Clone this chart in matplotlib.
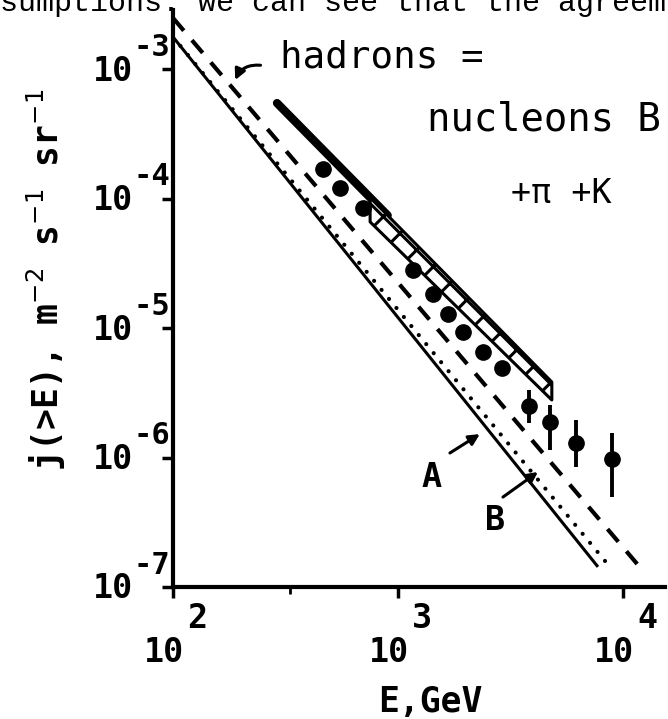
import numpy as np
import matplotlib
matplotlib.use("Agg")
import matplotlib.pyplot as plt
from matplotlib.transforms import blended_transform_factory, offset_copy
from matplotlib.ticker import NullLocator

# ---------------- data ----------------
# curve A (solid), curve B (dotted), hadron sum (dashed): power laws, end points
E_A = [100, 7745]
J_A = [1.77e-3, 1.43e-7]
E_B = [100, 8750]
J_B = [1.77e-3, 1.43e-7]
E_had = [100, 11670]
J_had = [2.48e-3, 1.48e-7]

# thick line and hatched band (measured spectrum)
E_thick = [290, 900]
J_thick = [5.46e-4, 7.41e-5]
E_band = [752, 4830]
J_band_hi = [1.016e-4, 3.83e-6]
J_band_lo = [6.6e-5, 2.78e-6]

# data points without error bars
E_pts = [464, 552, 699, 1166, 1431, 1668, 1944, 2387, 2898]
J_pts = [1.69e-4, 1.205e-4, 8.45e-5, 2.81e-5, 1.83e-5, 1.28e-5, 9.31e-6, 6.53e-6, 4.91e-6]

# data points with error bars
E_err = [3820, 4740, 6180, 8930]
J_err = [2.50e-6, 1.88e-6, 1.29e-6, 9.72e-7]
J_err_lo = [1.86e-6, 1.14e-6, 8.45e-7, 4.95e-7]
J_err_hi = [3.35e-6, 2.54e-6, 1.95e-6, 1.545e-6]

x_ticks = [1e2, 1e3, 1e4]
x_minor = [330]
y_ticks = [1e-7, 1e-6, 1e-5, 1e-4, 1e-3]

# ---------------- figure ----------------
W, H = 668, 719
plt.rcParams['hatch.linewidth'] = 2.2
fig = plt.figure(figsize=(W / 100, H / 100), dpi=100)
ax = fig.add_axes([173 / W, (H - 587) / H, (665 - 173) / W, 577 / H])
ax.set_xscale('log')
ax.set_yscale('log')
ax.set_xlim(100, 10 ** 4.187)
ax.set_ylim(1e-7, 10 ** -2.544)

for s in ('top', 'right'):
    ax.spines[s].set_visible(False)
for s in ('left', 'bottom'):
    ax.spines[s].set_linewidth(3)

ax.set_xticks(x_ticks)
ax.set_xticks(x_minor, minor=True)
ax.set_yticks(y_ticks)
ax.yaxis.set_minor_locator(NullLocator())
ax.tick_params(which='major', direction='out', length=8, width=2.5,
               labelbottom=False, labelleft=False)
ax.tick_params(which='minor', direction='out', length=5, width=2,
               labelbottom=False, labelleft=False)

lab_font = dict(family='DejaVu Sans Mono', weight='bold', color='k')

# custom tick labels: "10" with a raised exponent of the same size
bx = blended_transform_factory(ax.transData, ax.transAxes)
for v in x_ticks:
    e = int(round(np.log10(v)))
    ax.text(v, 0, "10", transform=offset_copy(bx, fig, x=11, y=-66, units='dots'),
            ha='right', va='center', size=24, **lab_font)
    ax.text(v, 0, str(e), transform=offset_copy(bx, fig, x=14, y=-31, units='dots'),
            ha='left', va='center', size=24, **lab_font)
by = blended_transform_factory(ax.transAxes, ax.transData)
for v in y_ticks:
    e = int(round(np.log10(v)))
    ax.text(0, v, "10", transform=offset_copy(by, fig, x=-40, y=-2, units='dots'),
            ha='right', va='center', size=24, **lab_font)
    ax.text(0, v, "-" + str(-e), transform=offset_copy(by, fig, x=-40, y=22, units='dots'),
            ha='left', va='center', size=22, **lab_font)

# ---------------- curves ----------------
ax.plot(E_A, J_A, color='k', lw=2.2, solid_capstyle='butt', zorder=3)
ax.plot(E_B, J_B, color='k', lw=3.0, linestyle=(0, (0.01, 2.8)),
        dash_capstyle='round', zorder=3)
ax.plot(E_had, J_had, color='k', lw=3.0, linestyle=(0, (4, 3)),
        dash_capstyle='butt', zorder=3)

ax.plot(E_thick, J_thick, color='k', lw=6, solid_capstyle='round', zorder=4)
ax.fill_between(E_band, J_band_lo, J_band_hi, facecolor='white', edgecolor='k',
                hatch='x', lw=2.2, zorder=4)

ax.plot(E_pts, J_pts, 'o', color='k', ms=11, zorder=5)
J_err_a = np.array(J_err)
ax.errorbar(E_err, J_err,
            yerr=[J_err_a - np.array(J_err_lo), np.array(J_err_hi) - J_err_a],
            fmt='o', color='k', ms=11, elinewidth=2.8, capsize=0, zorder=5)

# ---------------- annotations ----------------
txt = dict(family='DejaVu Sans Mono', color='k')
ax.text(299, 1.035e-3, "hadrons =", ha='left', va='baseline', size=27, **txt)
ax.text(1345, 3.38e-4, "nucleons B", ha='left', va='baseline', size=28, **txt)
ax.text(3180, 9.2e-5, "+\u03c0 +K", ha='left', va='baseline', size=24, **txt)
ax.text(1416, 7.06e-7, "A", ha='center', va='center', size=24, weight='bold', **txt)
ax.text(2698, 3.29e-7, "B", ha='center', va='center', size=24, weight='bold', **txt)

arr = dict(arrowstyle='-|>', lw=2.2, color='k', mutation_scale=16,
           shrinkA=0, shrinkB=0)
ax.annotate('', xy=(2312, 1.517e-6), xytext=(1702, 1.084e-6), arrowprops=arr)
ax.annotate('', xy=(4190, 7.73e-7), xytext=(2929, 4.95e-7), arrowprops=arr)
ax.annotate('', xy=(189, 8.22e-4), xytext=(245, 1.07e-3),
            arrowprops=dict(arr, connectionstyle='arc3,rad=0.35'))

# axis titles
fig.text(430 / W, 1 - 702 / H, "E,GeV", ha='center', va='center', size=25, **lab_font)
fig.text(46 / W, 1 - 280 / H, "j(>E), m$^{-2}$ s$^{-1}$ sr$^{-1}$", rotation=90,
         ha='center', va='center', size=25, **lab_font)

# running page text cut at the top edge
fig.text(0.0, 1 - 11 / H, "sumptions. we can see that the agreement",
         family='Liberation Mono', size=21.6, ha='left', va='baseline', color='k')

fig.savefig("out.png", dpi=100)
